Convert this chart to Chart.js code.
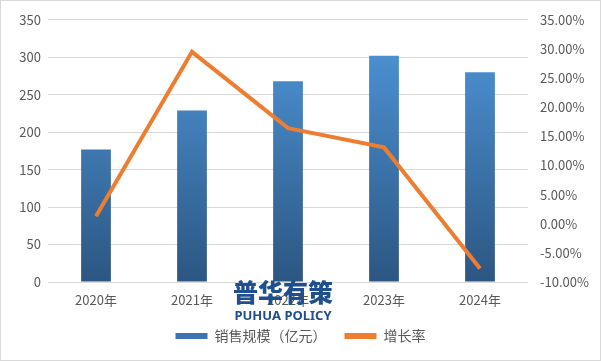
<!DOCTYPE html>
<html>
<head>
<meta charset="utf-8">
<script src="https://cdn.jsdelivr.net/npm/chart.js@4/dist/chart.umd.min.js"></script>
<style>
  html, body { margin: 0; padding: 0; background: #fff; }
  #wrap { width: 601px; height: 361px; position: relative; }
</style>
</head>
<body>
<div id="wrap"><canvas id="chart" width="601" height="361"></canvas></div>
<script>
const categories = ['2020年', '2021年', '2022年', '2023年', '2024年']
const sales = [177, 229, 268, 302, 280]
const growth = [1.3, 29.5, 16.4, 13.1, -7.7]
const leftTicks = [0, 350, 50]
const rightTicks = [-10, 35, 5]

const FONT = "'Noto Sans CJK SC', 'Noto Sans', sans-serif"
const GREY = '#595959'

function barGradient(ctx) {
  const area = ctx.chart.chartArea
  if (!area) return '#4a8fd0'
  const g = ctx.chart.ctx.createLinearGradient(0, area.top, 0, area.bottom)
  g.addColorStop(0, '#4f98dc')
  g.addColorStop(1, '#2c5682')
  return g
}

// frame + watermark
const decor = {
  id: 'decor',
  afterDraw(chart) {
    const c = chart.ctx
    c.save()
    c.strokeStyle = '#d9d9d9'
    c.lineWidth = 1
    c.strokeRect(0.5, 0.5, chart.width - 1, chart.height - 1)
    c.fillStyle = '#1f4f8f'
    c.textAlign = 'center'
    c.textBaseline = 'middle'
    c.font = "900 25px 'Noto Sans CJK SC'"
    c.fillText('普华有策', 283, 292)
    c.font = "bold 13px 'Noto Sans', sans-serif"
    c.fillText('PUHUA POLICY', 283, 316)
    c.restore()
  }
}

new Chart(document.getElementById('chart'), {
  data: {
    labels: categories,
    datasets: [
      {
        type: 'line',
        label: '增长率',
        data: growth,
        yAxisID: 'y2',
        borderColor: '#ed7d31',
        backgroundColor: '#ed7d31',
        borderWidth: 4,
        pointRadius: 0,
        tension: 0,
        order: 0,
      },
      {
        type: 'bar',
        label: '销售规模（亿元）',
        data: sales,
        yAxisID: 'y',
        backgroundColor: barGradient,
        barPercentage: 0.31,
        categoryPercentage: 1,
        order: 1,
      },
    ],
  },
  options: {
    responsive: false,
    animation: false,
    layout: { padding: { top: 10, right: 0, left: 0, bottom: 8 } },
    plugins: {
      tooltip: { enabled: false },
      legend: {
        position: 'bottom',
        reverse: true,
        labels: {
          font: { family: FONT, size: 14 },
          color: GREY,
          boxWidth: 32,
          boxHeight: 6,
          padding: 18,
          generateLabels(chart) {
            const items = Chart.defaults.plugins.legend.labels.generateLabels(chart)
            items.forEach(it => {
              if (it.datasetIndex === 1) { it.fillStyle = '#3b74b0'; it.strokeStyle = '#3b74b0' }
              it.lineWidth = 0
            })
            return items
          },
        },
      },
    },
    scales: {
      x: {
        grid: { display: false },
        border: { display: false },
        ticks: { font: { family: FONT, size: 13 }, color: GREY, padding: 2 },
        afterFit(s) { s.height = 29 },
      },
      y: {
        position: 'left',
        min: leftTicks[0],
        max: leftTicks[1],
        ticks: { stepSize: leftTicks[2], font: { family: FONT, size: 13 }, color: GREY, padding: 7 },
        grid: { color: '#d9d9d9', drawTicks: false },
        border: { display: false },
        afterFit(s) { s.width = 48 },
      },
      y2: {
        position: 'right',
        min: rightTicks[0],
        max: rightTicks[1],
        ticks: {
          stepSize: rightTicks[2],
          font: { family: FONT, size: 13 },
          color: GREY,
          padding: 12,
          callback: v => v.toFixed(2) + '%',
        },
        grid: { display: false, drawTicks: false },
        border: { display: false },
        afterFit(s) { s.width = 73 },
      },
    },
  },
  plugins: [decor],
})
</script>
</body>
</html>
